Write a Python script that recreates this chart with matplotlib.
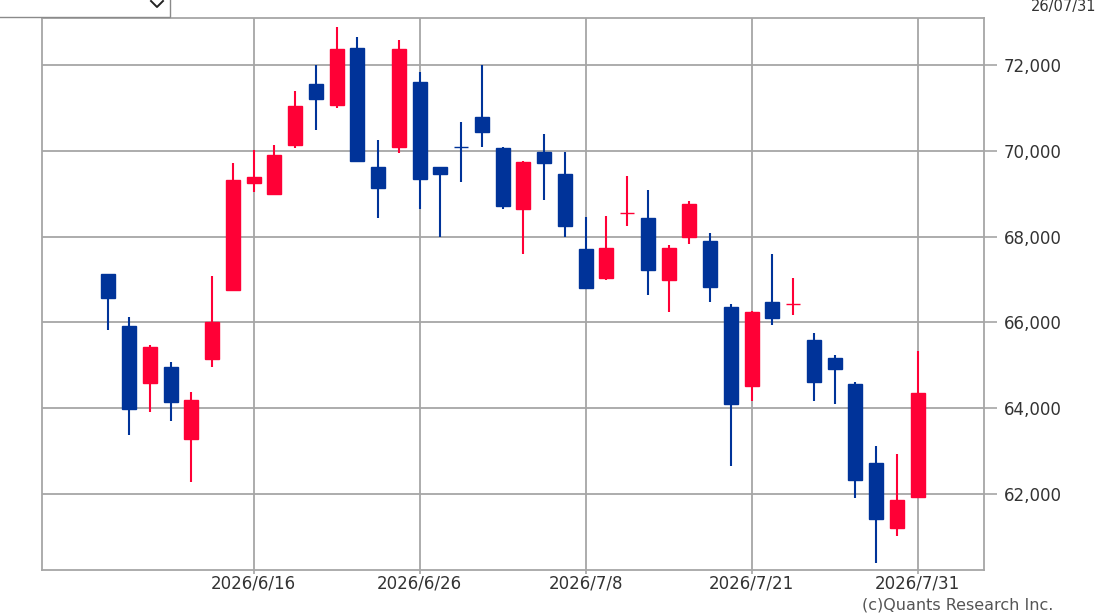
import matplotlib
matplotlib.use("Agg")
import matplotlib.pyplot as plt
from matplotlib.patches import Rectangle
from matplotlib.lines import Line2D
import numpy as np

dates = ["2026/6/5", "2026/6/8", "2026/6/9", "2026/6/10", "2026/6/11", "2026/6/12", "2026/6/15",
         "2026/6/16", "2026/6/17", "2026/6/18", "2026/6/19", "2026/6/22", "2026/6/23", "2026/6/24",
         "2026/6/25", "2026/6/26", "2026/6/29", "2026/6/30", "2026/7/1", "2026/7/2", "2026/7/3",
         "2026/7/6", "2026/7/7", "2026/7/8", "2026/7/9", "2026/7/10", "2026/7/13", "2026/7/14",
         "2026/7/15", "2026/7/16", "2026/7/17", "2026/7/21", "2026/7/22", "2026/7/23", "2026/7/24",
         "2026/7/27", "2026/7/28", "2026/7/29", "2026/7/30", "2026/7/31"]
opens = [67130, 65920, 64590, 64960, 63280, 65150, 66760,
         69260, 68990, 70140, 71560, 71070, 72400, 69630,
         70100, 71600, 69630, 70090, 70780, 70060, 68640,
         69980, 69460, 67700, 67030, 68540, 68430, 66990,
         67980, 67900, 66360, 64520, 66480, 66420, 65590,
         65160, 64560, 62730, 61210, 61940]
highs = [67130, 66130, 65470, 65080, 64380, 67080, 69720,
         70020, 70140, 71400, 72000, 72880, 72650, 70250,
         72580, 71840, 69630, 70680, 72000, 70080, 69760,
         70390, 69980, 68460, 68480, 69410, 69090, 67800,
         68830, 68090, 66440, 66260, 67590, 67030, 65750,
         65240, 64600, 63120, 62930, 65340]
lows = [65820, 63380, 63910, 63700, 62280, 64960, 66760,
        69050, 68990, 70070, 70480, 70990, 69760, 68440,
        69960, 68640, 68000, 69280, 70100, 68640, 67590,
        68850, 68000, 66790, 67000, 68250, 66640, 66250,
        67830, 66480, 62650, 64170, 65950, 66170, 64170,
        64100, 61900, 60390, 61020, 61940]
closes = [66570, 63980, 65430, 64150, 64190, 66010, 69320,
          69400, 69900, 71050, 71210, 72370, 69760, 69140,
          72370, 69340, 69450, 70080, 70450, 68710, 69750,
          69720, 68250, 66800, 67740, 68550, 67220, 67740,
          68750, 66830, 64100, 66250, 66100, 66430, 64600,
          64910, 62330, 61410, 61860, 64360]
tick_labels = ["2026/6/16", "2026/6/26", "2026/7/8", "2026/7/21", "2026/7/31"]
y_ticks = [62000, 64000, 66000, 68000, 70000, 72000]

W, H = 1099, 613
fig = plt.figure(figsize=(W / 100, H / 100), dpi=100)
fig.patch.set_facecolor("white")

L, R, T, B = 42, 984, 18, 570
ax = fig.add_axes([L / W, 1 - B / H, (R - L) / W, (B - T) / H])

UP = "#FF0036"
DOWN = "#003399"
x = np.arange(len(dates))
o = np.array(opens); c = np.array(closes); h = np.array(highs); lo = np.array(lows)
cols = [UP if cc >= oo else DOWN for oo, cc in zip(o, c)]

ax.vlines(x, lo, h, colors=cols, linewidth=1.5, zorder=3)
bottoms = np.minimum(o, c)
heights = np.maximum(np.abs(c - o), 1)
ax.bar(x, heights, bottom=bottoms, width=0.68, color=cols, edgecolor=cols,
       linewidth=1.0, zorder=4)

ax.set_xlim(-3.2, 42.2)
ax.set_ylim(60228, 73096)

tick_pos = [dates.index(d) for d in tick_labels]
ax.set_xticks(tick_pos)
ax.set_xticklabels(tick_labels)
ax.set_yticks(y_ticks)
ax.set_yticklabels([f"{v:,}" for v in y_ticks])
ax.yaxis.tick_right()
ax.grid(True, color="#a6a6a6", linewidth=1.3, zorder=0)
ax.set_axisbelow(True)
ax.tick_params(axis="y", which="both", direction="out", length=9, width=1.2,
               color="#a6a6a6", labelsize=12, labelcolor="#333333", pad=5, left=False)
ax.tick_params(axis="x", which="both", direction="out", length=3, width=1.2,
               color="#a6a6a6", labelsize=12, labelcolor="#333333", pad=0)
for s in ax.spines.values():
    s.set_color("#a6a6a6")
    s.set_linewidth(1.3)

# top dropdown box
box = Rectangle((-4 / W, 1 - 17 / H), 174 / W, 30 / H, transform=fig.transFigure,
                facecolor="white", edgecolor="#8a8a8a", linewidth=1.0, clip_on=False)
fig.add_artist(box)
chev = Line2D([151 / W, 157 / W, 163 / W], [1 - 1 / H, 1 - 7 / H, 1 - 1 / H],
              transform=fig.transFigure, color="#222222", linewidth=1.4)
fig.add_artist(chev)

fig.text(1096 / W, 1 - 11 / H, "26/07/31", fontsize=10.5, color="#333333",
         ha="right", va="baseline")
fig.text(862 / W, 1 - 610 / H, "(c)Quants Research Inc.", fontsize=11.5, color="#555555",
         ha="left", va="baseline")

fig.savefig("out.png", dpi=100, facecolor="white")
